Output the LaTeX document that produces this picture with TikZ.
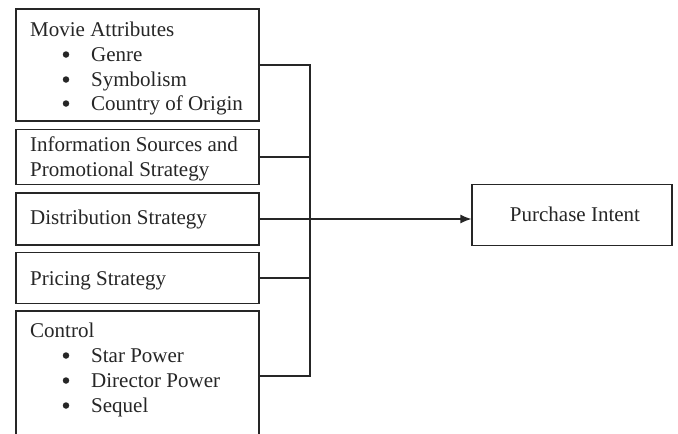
\documentclass[tikz,border=0pt]{standalone}
\usepackage{fontspec}
\setmainfont{Liberation Serif}
\usetikzlibrary{arrows.meta}
\begin{document}
\begin{tikzpicture}[x=1pt,y=-1pt,
  box/.style={draw=black!85,line width=1.2pt,inner sep=0pt,minimum width=243pt},
  lbl/.style={anchor=base west,inner sep=0pt,font=\fontsize{21}{25}\selectfont,text=black!85},
  bul/.style={circle,fill=black!85,inner sep=0pt,minimum size=6.5pt},
  conn/.style={draw=black!85,line width=1.2pt}]
\path[use as bounding box,clip] (0,0) rectangle (678,434);
\fill[white] (0,0) rectangle (678,434);
% boxes
\node[box,minimum height=112pt] (b1) at (137.5,65) {};
\node[box,minimum height=55pt] (b2) at (137.5,157) {};
\node[box,minimum height=52pt] (b3) at (137.5,219) {};
\node[box,minimum height=51pt] (b4) at (137.5,278) {};
\node[box,minimum height=130pt] (b5) at (137.5,376) {};
\node[box,minimum width=200pt,minimum height=61pt] (pi) at (572,215) {};
% texts
\node[lbl] (t1) at (30,36) {Movie Attributes};
\node[bul] (t1a) at (66,54.5) {};
\node[lbl] (t1b) at (91,61) {Genre};
\node[bul] (t1c) at (66,79.5) {};
\node[lbl] (t1d) at (91,86) {Symbolism};
\node[bul] (t1e) at (66,103.5) {};
\node[lbl] (t1f) at (91,110) {Country of Origin};
\node[lbl] (t2) at (30,151) {Information Sources and};
\node[lbl] (t2b) at (30,176) {Promotional Strategy};
\node[lbl] (t3) at (30,224) {Distribution Strategy};
\node[lbl] (t4) at (30,285) {Pricing Strategy};
\node[lbl] (t5) at (30,337) {Control};
\node[bul] (t5a) at (66,355.5) {};
\node[lbl] (t5b) at (91,362) {Star Power};
\node[bul] (t5c) at (66,380.5) {};
\node[lbl] (t5d) at (91,387) {Director Power};
\node[bul] (t5e) at (66,405.5) {};
\node[lbl] (t5f) at (91,412) {Sequel};
\node[lbl,anchor=base] (tp) at (575,221) {Purchase Intent};
% connectors
\coordinate (j1) at (310,65);
\coordinate (j2) at (310,157);
\coordinate (j4) at (310,278);
\coordinate (j5) at (310,376);
\draw[conn] (b1.east) -- (j1) -- (j5) -- (b5.east);
\draw[conn] (b2.east) -- (j2);
\draw[conn] (b4.east) -- (j4);
\draw[conn,-{Latex[length=11pt,width=9pt]}] (b3.east) -- (b3.east -| pi.west);
\end{tikzpicture}
\end{document}
